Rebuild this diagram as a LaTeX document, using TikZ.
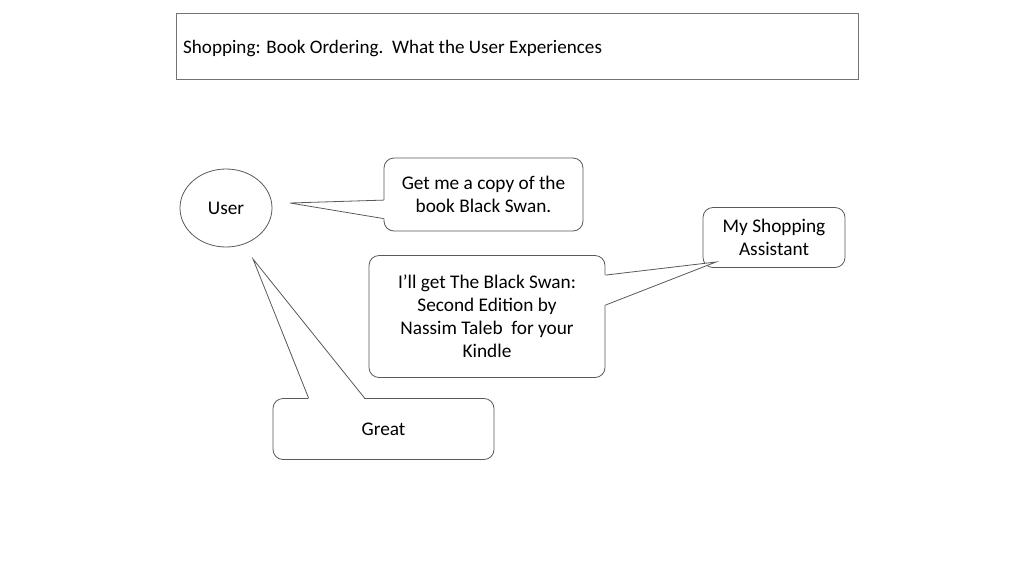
\documentclass[tikz,border=0pt]{standalone}
\usepackage{fontspec}
\setmainfont{Carlito}
\usetikzlibrary{calc,shapes.geometric}
\begin{document}
\begin{tikzpicture}[x=1pt,y=-1pt,
  bubble/.style={draw=black!65,line width=0.8pt,rounded corners=10pt,fill=white,inner sep=0pt,align=center,font=\fontsize{19.3}{23}\selectfont},
  ptr/.style={draw=black!65,line width=0.8pt},
  ptrfill/.style={fill=white}]
\useasboundingbox (0,0) rectangle (1024,576);
% title
\node[draw=black!55,line width=0.8pt,minimum width=682pt,minimum height=66pt,inner sep=0pt] (title) at (517,46) {};
\node[anchor=west,font=\fontsize{19.1}{23}\selectfont,inner sep=0pt] (ttext) at (183,48.5) {Shopping: Book Ordering.\ \ What the User Experiences};
% user
\node[ellipse,draw=black!65,line width=0.8pt,minimum width=92pt,minimum height=78pt,inner sep=0pt,font=\fontsize{19.3}{23}\selectfont] (user) at (226,208) {User};
% boxes
\node[bubble,minimum width=199pt,minimum height=73pt] (b1) at (483.5,194.5) {Get me a copy of the\\book Black Swan.};
\node[bubble,minimum width=236pt,minimum height=122pt] (b2) at (487,316.5) {I’ll get The Black Swan:\\Second Edition by\\Nassim Taleb\ \ for your\\Kindle};
\node[bubble,minimum width=142pt,minimum height=60pt] (b3) at (774,237.5) {My Shopping\\Assistant};
\node[bubble,minimum width=221pt,minimum height=61pt] (b4) at (383.5,429) {Great};
% pointer tips
\coordinate (t1) at (290,203);
\coordinate (t2) at (716,262);
\coordinate (t4) at (253,259);
% pointer base points
\coordinate (p1a) at ($(b1.north west)+(0,42.5)$);
\coordinate (p1b) at ($(b1.north west)+(0,61)$);
\coordinate (p2a) at ($(b2.north east)+(0,20)$);
\coordinate (p2b) at ($(b2.north east)+(0,50)$);
\coordinate (p4a) at ($(b4.north west)+(36,0)$);
\coordinate (p4b) at ($(b4.north west)+(92,0)$);
% pointer 1
\fill[ptrfill] (t1) -- ($(p1a)+(1.2,0)$) -- ($(p1b)+(1.2,0)$) -- cycle;
\draw[ptr] (p1a) -- (t1) -- (p1b);
% pointer 2
\fill[ptrfill] (t2) -- ($(p2a)+(-1.2,0)$) -- ($(p2b)+(-1.2,0)$) -- cycle;
\draw[ptr] (p2a) -- (t2) -- (p2b);
% pointer 4
\fill[ptrfill] (t4) -- ($(p4a)+(0,1.2)$) -- ($(p4b)+(0,1.2)$) -- cycle;
\draw[ptr] (p4a) -- (t4) -- (p4b);
\end{tikzpicture}
\end{document}
